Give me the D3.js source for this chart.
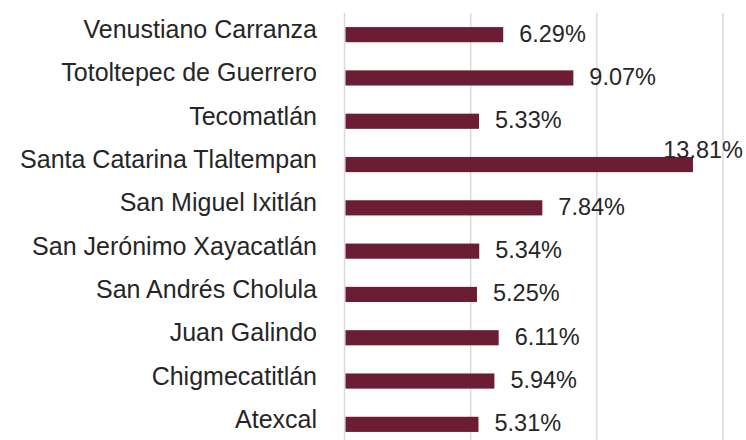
<html>
<head>
<meta charset="utf-8">
<script src="https://d3js.org/d3.v7.min.js"></script>
<style>
  body { margin: 0; background: #fff; }
  text { font-family: "Liberation Sans", Arial, sans-serif; fill: #262626; }
</style>
</head>
<body>
<script>
// municipalities, top to bottom
var categories = ["Venustiano Carranza", "Totoltepec de Guerrero", "Tecomatlán",
    "Santa Catarina Tlaltempan", "San Miguel Ixitlán", "San Jerónimo Xayacatlán",
    "San Andrés Cholula", "Juan Galindo", "Chigmecatitlán", "Atexcal"];
var values = [6.29, 9.07, 5.33, 13.81, 7.84, 5.34, 5.25, 6.11, 5.94, 5.31];
var ticks = [0, 5, 10, 15];

var width = 746, height = 440;

var svg = d3.select("body").append("svg")
    .attr("width", width)
    .attr("height", height);

var x = d3.scaleLinear().domain([0, 15]).range([344.5, 723]);
var y = d3.scaleBand().domain(categories).range([13, 446]).paddingInner(0.65).paddingOuter(0.325);

// gridlines
svg.selectAll("line.grid")
    .data(ticks)
    .enter().append("line")
    .attr("class", "grid")
    .attr("x1", function(d) { return x(d); })
    .attr("x2", function(d) { return x(d); })
    .attr("y1", 13)
    .attr("y2", height)
    .attr("stroke", "#d9d9d9")
    .attr("stroke-width", 1.5);

// bars
svg.selectAll("rect.bar")
    .data(values)
    .enter().append("rect")
    .attr("class", "bar")
    .attr("x", x(0) + 1)
    .attr("y", function(d, i) { return y(categories[i]); })
    .attr("width", function(d) { return x(d) - x(0) - 1; })
    .attr("height", y.bandwidth())
    .attr("fill", "#6b1e33");

// category labels
svg.selectAll("text.cat")
    .data(categories)
    .enter().append("text")
    .attr("class", "cat")
    .attr("x", 317)
    .attr("y", function(d) { return y(d) + y.bandwidth() / 2 + 3.5; })
    .attr("text-anchor", "end")
    .style("font-size", "25px")
    .text(function(d) { return d; });

// value labels
svg.selectAll("text.val")
    .data(values)
    .enter().append("text")
    .attr("class", "val")
    .attr("y", function(d, i) { return y(categories[i]) + y.bandwidth() / 2 + 7; })
    .style("font-size", "23.5px")
    .text(function(d) { return d.toFixed(2) + "%"; })
    .each(function(d) {
        var t = d3.select(this);
        var w = this.getComputedTextLength();
        var px = x(d) + 16;
        if (px + w > width - 4) {
            // no room: keep inside the chart and lift above the bar
            t.attr("x", width - 3 - w).attr("y", +t.attr("y") - 14);
        } else {
            t.attr("x", px);
        }
    });
</script>
</body>
</html>
